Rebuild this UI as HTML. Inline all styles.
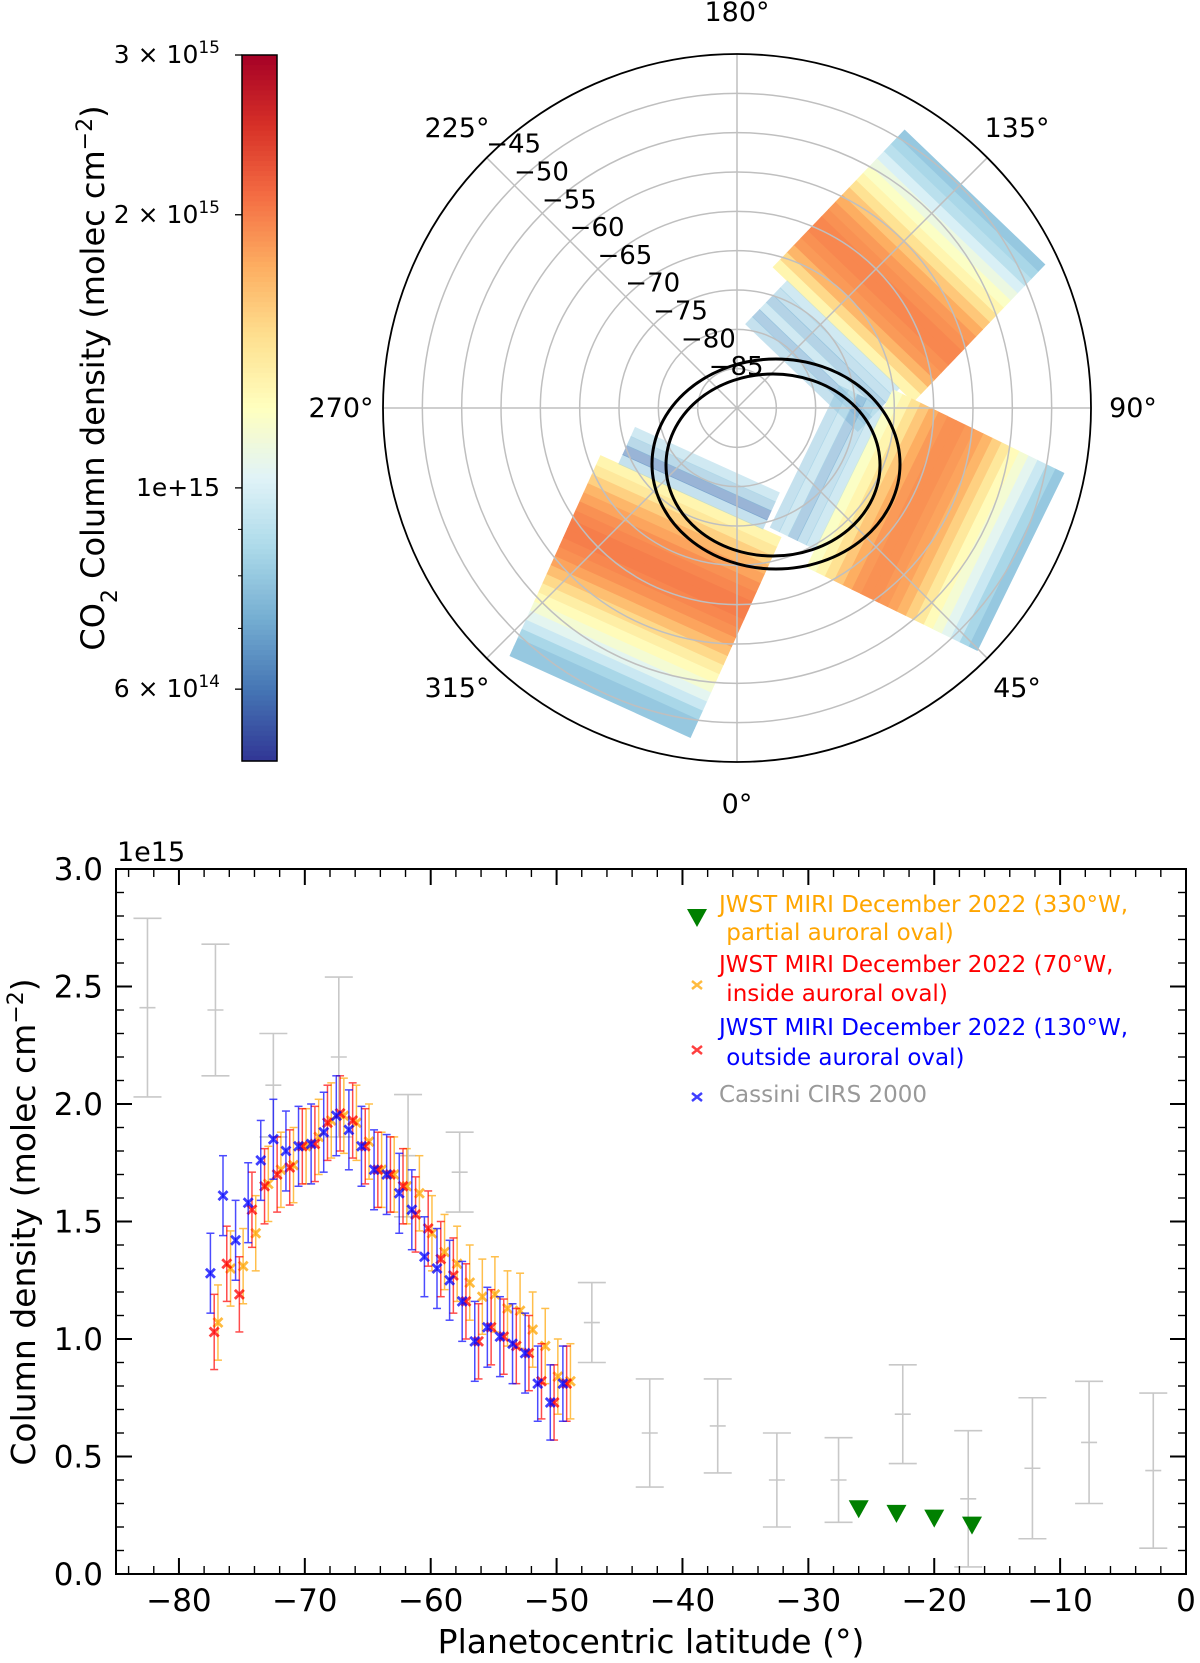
<!DOCTYPE html>
<html><head><meta charset="utf-8">
<style>
html,body{margin:0;padding:0;background:#fff;}
svg{display:block;font-family:"DejaVu Sans","Liberation Sans",sans-serif;}
</style></head>
<body>
<svg id="fig" width="1200" height="1663" viewBox="0 0 1200 1663" xmlns="http://www.w3.org/2000/svg">
<g id="cbar"></g>
<g id="polar"></g>
<g id="chart"></g>
</svg>
<script>
// ---------- colour map data ----------
const cmapStops = ["#313695","#4575b4","#74add1","#abd9e9","#e0f3f8","#ffffbf","#fee090","#fdae61","#f46d43","#d73027","#a50026"];
const cbarTicks = [3, 2, 1, 0.6];
const cbarTickLabels = ["3 × 10<tspan baseline-shift='super' font-size='17'>15</tspan>","2 × 10<tspan baseline-shift='super' font-size='17'>15</tspan>","1e+15","6 × 10<tspan baseline-shift='super' font-size='17'>14</tspan>"];
const cbarMinor = [0.9, 0.8, 0.7];
// ---------- polar map data (values in 1e15, outer -> inner) ----------
const stripAValues = [0.8,0.85,0.9,1.0,1.1,1.2,1.3,1.45,1.6,1.75,1.85,1.9,1.95,1.95,1.9,1.85,1.7,1.5,1.3,0.85,0.8,0.72,0.85,0.7,0.8];
const stripBValues = [0.8,0.85,0.95,1.05,1.15,1.25,1.4,1.55,1.7,1.8,1.85,1.9,1.9,1.85,1.75,1.6,1.45,1.3,1.2,0.85,0.8,0.7,0.85,0.8];
const stripCValues = [0.8,0.8,0.85,0.95,1.05,1.15,1.25,1.35,1.5,1.65,1.8,1.9,1.95,2.0,2.0,1.95,1.9,1.8,1.7,1.55,1.4,1.3,0.8,0.6,0.75,0.85];
const ringLats = [-85,-80,-75,-70,-65,-60,-55,-50];
const radialLabels = [-45,-50,-55,-60,-65,-70,-75,-80,-85];
const angleTicks = [0,45,90,135,180,225,270,315];
// ---------- line chart data ----------
const cassiniLat = [-82.5,-77.1,-72.5,-67.3,-61.8,-57.7,-47.2,-42.6,-37.2,-32.5,-27.6,-22.5,-17.3,-12.2,-7.7,-2.6];
const cassiniVal = [2.41,2.40,2.08,2.20,1.78,1.71,1.07,0.60,0.63,0.40,0.40,0.68,0.32,0.45,0.56,0.44];
const cassiniErr = [0.38,0.28,0.22,0.34,0.26,0.17,0.17,0.23,0.20,0.20,0.18,0.21,0.29,0.30,0.26,0.33];
const jwstLat = [-77.5,-76.5,-75.5,-74.5,-73.5,-72.5,-71.5,-70.5,-69.5,-68.5,-67.5,-66.5,-65.5,-64.5,-63.5,-62.5,-61.5,-60.5,-59.5,-58.5,-57.5,-56.5,-55.5,-54.5,-53.5,-52.5,-51.5,-50.5,-49.5];
const blueVal = [1.28,1.61,1.42,1.58,1.76,1.85,1.80,1.82,1.83,1.88,1.95,1.89,1.82,1.72,1.70,1.62,1.55,1.35,1.30,1.25,1.16,0.99,1.05,1.01,0.98,0.94,0.81,0.73,0.81];
const blueErr = [0.17,0.17,0.17,0.17,0.17,0.17,0.17,0.17,0.17,0.17,0.17,0.17,0.17,0.17,0.17,0.17,0.17,0.17,0.17,0.17,0.17,0.17,0.17,0.17,0.17,0.17,0.16,0.16,0.16];
const redVal = [1.03,1.32,1.19,1.55,1.65,1.70,1.73,1.82,1.83,1.92,1.96,1.93,1.82,1.72,1.70,1.65,1.53,1.47,1.34,1.27,1.16,0.99,1.05,1.01,0.97,0.94,0.82,0.73,0.81];
const redErr = [0.16,0.16,0.16,0.16,0.16,0.16,0.16,0.16,0.16,0.16,0.16,0.16,0.16,0.16,0.16,0.16,0.16,0.16,0.16,0.16,0.16,0.16,0.16,0.16,0.16,0.16,0.16,0.16,0.16];
const orangeVal = [1.07,1.30,1.31,1.45,1.66,1.72,1.74,1.82,1.86,1.93,1.95,1.92,1.84,1.72,1.70,1.65,1.62,1.45,1.37,1.32,1.24,1.18,1.19,1.13,1.12,1.04,0.97,0.84,0.82];
const orangeErr = [0.16,0.16,0.16,0.16,0.16,0.16,0.16,0.16,0.16,0.16,0.16,0.16,0.16,0.16,0.16,0.16,0.16,0.16,0.16,0.16,0.16,0.16,0.16,0.16,0.16,0.16,0.16,0.16,0.16];
const greenLat = [-26.0,-23.0,-20.0,-17.0];
const greenVal = [0.28,0.26,0.24,0.21];
const xTicks = [-80,-70,-60,-50,-40,-30,-20,-10,0];
const yTicks = [0,0.5,1.0,1.5,2.0,2.5,3.0];
const yTickLabels = ["0.0","0.5","1.0","1.5","2.0","2.5","3.0"];

const NS="http://www.w3.org/2000/svg";
function mk(parent, tag, attrs){const e=document.createElementNS(NS,tag);for(const k in attrs)e.setAttribute(k,attrs[k]);parent.appendChild(e);return e;}
function hex(h){return [parseInt(h.slice(1,3),16),parseInt(h.slice(3,5),16),parseInt(h.slice(5,7),16)];}
function cmapT(t){t=Math.max(0,Math.min(1,t));const n=cmapStops.length-1;const i=Math.min(n-1,Math.floor(t*n));const f=t*n-i;const a=hex(cmapStops[i]),b=hex(cmapStops[i+1]);return "rgb("+a.map((v,k)=>Math.round(v+(b[k]-v)*f)).join(",")+")";}
const LMIN=Math.log10(0.5),LMAX=Math.log10(3);
function norm(v){return (Math.log10(v)-LMIN)/(LMAX-LMIN);}
function cmap(v){return cmapT(norm(v));}

// ---------- colorbar ----------
(function(){
 const g=document.getElementById('cbar');
 const x0=242,x1=277,y0=55,y1=761,N=140;
 for(let i=0;i<N;i++){
  const r=mk(g,'rect',{x:x0,y:y0+(y1-y0)*i/N,width:x1-x0,height:(y1-y0)/N+0.6,fill:cmapT(1-(i+0.5)/N)});
  
 }
 const fr=mk(g,'rect',{x:x0,y:y0,width:x1-x0,height:y1-y0,fill:'none',stroke:'#000','stroke-width':1.5});
 
 const yOf=v=>y0+(1-norm(v))*(y1-y0);
 cbarTicks.forEach((v,i)=>{
  const y=yOf(v);
  mk(g,'line',{x1:x0-7,x2:x0,y1:y,y2:y,stroke:'#000','stroke-width':1.3});
  const t=mk(g,'text',{x:x0-22,y:y+8,'text-anchor':'end','font-size':25});
  t.innerHTML=cbarTickLabels[i];
  
 });
 cbarMinor.forEach(v=>{const y=yOf(v);mk(g,'line',{x1:x0-4,x2:x0,y1:y,y2:y,stroke:'#000','stroke-width':1});});
 const lab=mk(g,'text',{x:0,y:0,transform:'translate(104,378) rotate(-90)','text-anchor':'middle','font-size':32});
 lab.innerHTML="CO<tspan baseline-shift='sub' font-size='22'>2</tspan> Column density (molec cm<tspan baseline-shift='super' font-size='22'>−2</tspan>)";
 
})();

// ---------- polar ----------
(function(){
 const g=document.getElementById('polar');
 const cx=737,cy=408,R=354;
 const rOf=lat=>(lat+90)/45*R;
 const pt=(th,r)=>[cx+r*Math.sin(th*Math.PI/180), cy+r*Math.cos(th*Math.PI/180)];
 function strip(name,O,u,W,cell,vals,nBody){
  const sg=mk(g,'g',{});
  
  const p=[-u[1],u[0]];
  vals.forEach((v,i)=>{
   const s0=i*cell,s1=(i+1)*cell+0.8;
   const a=[O[0]-u[0]*s0,O[1]-u[1]*s0],b=[O[0]-u[0]*s1,O[1]-u[1]*s1];
   const hw=i<nBody?W/2:W/2*0.8;
   const pts=[[a[0]+p[0]*hw,a[1]+p[1]*hw],[a[0]-p[0]*hw,a[1]-p[1]*hw],[b[0]-p[0]*hw,b[1]-p[1]*hw],[b[0]+p[0]*hw,b[1]+p[1]*hw]];
   const c=mk(sg,'polygon',{points:pts.map(q=>q.join(',')).join(' '),fill:cmap(v),opacity:i<nBody?1:0.55});
   
  });
 }
 strip('strip-130w',[975,197],[0.692,-0.722],195,10,stripAValues,19);
 strip('strip-70w',[1021,562],[0.899,0.439],198,10,stripBValues,19);
 strip('strip-330w',[600,697],[-0.412,0.910],199,10,stripCValues,22);
 ringLats.forEach(l=>{const c=mk(g,'circle',{cx:cx,cy:cy,r:rOf(l),fill:'none',stroke:'#bfbfbf','stroke-width':1.5});
  });
 angleTicks.forEach(a=>{const e=pt(a,R);const l=mk(g,'line',{x1:cx,y1:cy,x2:e[0],y2:e[1],stroke:'#bfbfbf','stroke-width':1.5});
  });
 const oc=mk(g,'circle',{cx:cx,cy:cy,r:R,fill:'none',stroke:'#000','stroke-width':1.8});
 
 const e1=mk(g,'ellipse',{cx:776,cy:464,rx:124,ry:105,fill:'none',stroke:'#000','stroke-width':3});
 
 const e2=mk(g,'ellipse',{cx:773,cy:465,rx:107,ry:91,fill:'none',stroke:'#000','stroke-width':3});
 
 angleTicks.forEach(a=>{const q=pt(a,R+42);const t=mk(g,'text',{x:q[0],y:q[1]+9,'text-anchor':'middle','font-size':27});
  t.textContent=a+"°";});
 radialLabels.forEach(l=>{const q=pt(225,rOf(l));const t=mk(g,'text',{x:q[0]+27,y:q[1]-5,'text-anchor':'middle','font-size':26});
  t.textContent="−"+Math.abs(l);});
})();

// ---------- bottom chart ----------
(function(){
 const g=document.getElementById('chart');
 const L=116,Rr=1186,T=869,B=1574;
 const X=lat=>Rr+lat*(Rr-L)/85;
 const Y=v=>B-v*(B-T)/3;
 cassiniLat.forEach((la,i)=>{
  const x=X(la),v=cassiniVal[i],e=cassiniErr[i];
  const eg=mk(g,'g',{stroke:'#c8c8c8','stroke-width':1.6});
  
  mk(eg,'line',{x1:x,x2:x,y1:Y(v+e),y2:Y(v-e)});
  mk(eg,'line',{x1:x-14,x2:x+14,y1:Y(v+e),y2:Y(v+e)});
  mk(eg,'line',{x1:x-14,x2:x+14,y1:Y(v-e),y2:Y(v-e)});
  mk(eg,'line',{x1:x-8,x2:x+8,y1:Y(v),y2:Y(v)});
 });
 function series(name,col,vals,errs,dx){
  const sg=mk(g,'g',{});
  
  jwstLat.forEach((la,i)=>{
   const x=X(la+dx),v=vals[i],e=errs[i];
   const eb=mk(sg,'g',{stroke:col,'stroke-width':1.5,opacity:0.7});
   
   mk(eb,'line',{x1:x,x2:x,y1:Y(v+e),y2:Y(v-e)});
   mk(eb,'line',{x1:x-4,x2:x+4,y1:Y(v+e),y2:Y(v+e)});
   mk(eb,'line',{x1:x-4,x2:x+4,y1:Y(v-e),y2:Y(v-e)});
   const y=Y(v),s=4.5;
   const m=mk(sg,'path',{d:`M${x-s},${y-s}L${x+s},${y+s}M${x-s},${y+s}L${x+s},${y-s}`,stroke:col,'stroke-width':2.8,opacity:0.75});
   
  });
 }
 series('series-330w','#ffa500',orangeVal,orangeErr,0.6);
 series('series-70w','#ff0000',redVal,redErr,0.3);
 series('series-130w','#0000ff',blueVal,blueErr,0);
 greenLat.forEach((la,i)=>{const x=X(la),y=Y(greenVal[i]);
  const p=mk(g,'polygon',{points:`${x-10},${y-8} ${x+10},${y-8} ${x},${y+10}`,fill:'#008000'});
  });
 const fr=mk(g,'rect',{x:L,y:T,width:Rr-L,height:B-T,fill:'none',stroke:'#000','stroke-width':2});
 
 for(let la=-84;la<=0;la+=2){const x=X(la);const maj=la%10===0;const len=maj?16:8;
  mk(g,'line',{x1:x,x2:x,y1:B,y2:B-len,stroke:'#000','stroke-width':maj?2:1.4});
  mk(g,'line',{x1:x,x2:x,y1:T,y2:T+len,stroke:'#000','stroke-width':maj?2:1.4});}
 for(let k=0;k<=30;k++){const v=k/10;const y=Y(v);const maj=k%5===0;const len=maj?16:8;
  mk(g,'line',{x1:L,x2:L+len,y1:y,y2:y,stroke:'#000','stroke-width':maj?2:1.4});
  mk(g,'line',{x1:Rr,x2:Rr-len,y1:y,y2:y,stroke:'#000','stroke-width':maj?2:1.4});}
 xTicks.forEach(t=>{const e=mk(g,'text',{x:X(t),y:1611,'text-anchor':'middle','font-size':31});
  e.textContent=t<0?"−"+Math.abs(t):String(t);});
 yTicks.forEach((t,i)=>{const e=mk(g,'text',{x:103,y:Y(t)+11,'text-anchor':'end','font-size':31});
  e.textContent=yTickLabels[i];});
 const off=mk(g,'text',{x:117,y:861,'font-size':27});off.textContent="1e15";
 
 const xl=mk(g,'text',{x:651,y:1653,'text-anchor':'middle','font-size':33});xl.textContent="Planetocentric latitude (°)";
 
 const yl=mk(g,'text',{x:0,y:0,transform:'translate(35,1222) rotate(-90)','text-anchor':'middle','font-size':33});
 yl.innerHTML="Column density (molec cm<tspan baseline-shift='super' font-size='22'>−2</tspan>)";
 
 const lg=mk(g,'g',{'font-size':23});
 
 const tri=mk(lg,'polygon',{points:"687,909 707,909 697,927",fill:'#008000'});
 
 [["#ffa500",985],["#ff0000",1050],["#0000ff",1097]].forEach(([c,y])=>{
  const m=mk(lg,'path',{d:`M692,${y-4}L702,${y+4}M692,${y+4}L702,${y-4}`,stroke:c,'stroke-width':2.5,opacity:0.75});
  });
 const lines=[["#ffa500",912,"JWST MIRI December 2022 (330°W,"],["#ffa500",940,"\u00a0partial auroral oval)"],
  ["#ff0000",972,"JWST MIRI December 2022 (70°W,"],["#ff0000",1001,"\u00a0inside auroral oval)"],
  ["#0000ff",1035,"JWST MIRI December 2022 (130°W,"],["#0000ff",1065,"\u00a0outside auroral oval)"],
  ["#999999",1102,"Cassini CIRS 2000"]];
 lines.forEach(([c,y,s])=>{const t=mk(lg,'text',{x:719,y:y,fill:c});t.textContent=s;
  });
})();
</script>
</body></html>
